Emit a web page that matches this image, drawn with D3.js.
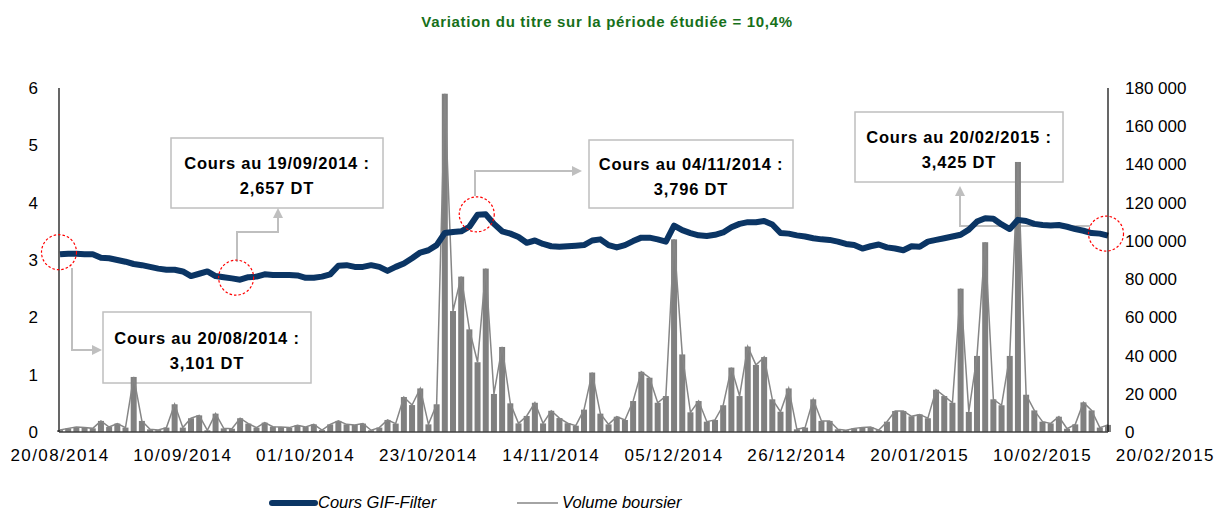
<!DOCTYPE html>
<html><head><meta charset="utf-8">
<script src="https://cdn.jsdelivr.net/npm/d3@7"></script>
<style>
body{margin:0;background:#fff}
svg{display:block}
text{font-family:"Liberation Sans",Arial,sans-serif}
</style>
</head><body>
<svg id="chart" width="1215" height="513"></svg>
<script>
// ---- categories: trading days (dd per month)
const tradingMonths = [
  ["08/2014",[20,21,22,25,26,27,28,29]],
  ["09/2014",[1,2,3,4,5,8,9,10,11,12,15,16,17,18,19,22,23,24,25,26,29,30]],
  ["10/2014",[1,2,3,6,7,8,9,10,13,14,16,17,20,21,22,23,27,28,29,30,31]],
  ["11/2014",[3,4,5,6,7,10,11,12,13,14,17,18,19,20,21,24,25,26,27,28]],
  ["12/2014",[1,2,3,4,5,8,9,10,11,12,15,16,17,18,19,22,23,24,25,26,29,30,31]],
  ["01/2015",[2,5,6,7,8,9,12,13,15,16,19,20,21,22,23,26,27,28,29,30]],
  ["02/2015",[2,3,4,5,6,9,10,11,12,13,16,17,18,19,20]]
];
const dates = tradingMonths.flatMap(([m,days]) => days.map(d => String(d).padStart(2,"0")+"/"+m));

// ---- series: share price (DT)
const cours = [
 3.101,3.11,3.11,3.10,3.10,3.04,3.03,3.00,2.97,2.93,
 2.91,2.88,2.85,2.83,2.83,2.80,2.72,2.76,2.80,2.72,
 2.70,2.68,2.657,2.70,2.71,2.75,2.74,2.74,2.74,2.73,
 2.69,2.69,2.71,2.75,2.90,2.91,2.88,2.88,2.91,2.88,
 2.81,2.88,2.94,3.03,3.13,3.17,3.26,3.47,3.49,3.50,
 3.58,3.79,3.796,3.63,3.50,3.46,3.40,3.30,3.34,3.28,
 3.24,3.23,3.24,3.25,3.26,3.34,3.36,3.26,3.22,3.26,
 3.33,3.39,3.39,3.36,3.32,3.60,3.52,3.47,3.43,3.42,
 3.44,3.48,3.57,3.63,3.66,3.66,3.68,3.62,3.47,3.46,
 3.43,3.41,3.38,3.36,3.35,3.32,3.28,3.26,3.20,3.24,
 3.27,3.22,3.20,3.17,3.24,3.23,3.32,3.35,3.38,3.41,
 3.44,3.53,3.67,3.73,3.72,3.62,3.54,3.70,3.68,3.63,
 3.61,3.60,3.61,3.58,3.54,3.51,3.47,3.46,3.425
];
// ---- series: traded volume
const volume = [
 1000,1900,2600,2300,1900,5800,2600,4400,2300,28800,
 5800,1400,1000,2300,14500,2300,7200,8700,900,9600,
 1900,1700,7200,4400,2300,4900,2800,2600,2300,3500,
 2600,4000,1000,4000,5800,4000,3700,4400,900,2300,
 6300,4400,18300,14100,22800,4000,14500,177000,63300,81300,
 53700,36500,85500,19900,44500,15000,4500,8400,15300,4500,
 11100,7300,4600,3300,11700,31100,9600,4000,8000,6300,
 16200,31500,28400,15300,18800,100800,40600,10300,16200,5400,
 6300,14000,33700,18800,44700,35100,39200,17100,10600,22800,
 1400,2300,17100,5800,5800,1400,900,1900,2300,2600,
 1000,5400,11000,11000,8200,9200,7200,22100,18800,15300,
 75000,10500,39800,99300,17100,14000,39800,141300,19500,11300,
 5400,4500,8000,1700,4000,15500,11300,2300,3700
];
// ---- axis labels
const xTickLabels = ["20/08/2014","10/09/2014","01/10/2014","23/10/2014","14/11/2014","05/12/2014","26/12/2014","20/01/2015","10/02/2015","20/02/2015"];
const xTickStep = 15;
const leftTicks = [0,1,2,3,4,5,6];
const rightTicks = [0,20000,40000,60000,80000,100000,120000,140000,160000,180000];
const titleText = "Variation du titre sur la période étudiée = 10,4%";
const legendLabels = ["Cours GIF-Filter","Volume boursier"];
// ---- annotations: [date, value text]
const annotations = [
  {date:"20/08/2014", label:"3,101 DT"},
  {date:"19/09/2014", label:"2,657 DT"},
  {date:"04/11/2014", label:"3,796 DT"},
  {date:"20/02/2015", label:"3,425 DT"}
];

const svg = d3.select("#chart");
const L = 59, R = 1108, T = 88, B = 432;
const x = d3.scaleLinear().domain([0, dates.length-1]).range([60, R]);
const yL = d3.scaleLinear().domain([0,6]).range([B,T]);
const yR = d3.scaleLinear().domain([0,180000]).range([B,T]);
const fmt = d3.formatLocale({decimal:",", thousands:" ", grouping:[3], currency:["",""]}).format(",d");

// title
svg.append("text").attr("x",607).attr("y",27).attr("text-anchor","middle")
  .attr("fill","#17701a").attr("font-weight","bold").attr("font-size",15)
  .attr("letter-spacing",0.7).text(titleText);

// annotation boxes (drawn below data)
const gray = "#bfbfbf";
const boxes = [
  {x:103,y:312,w:208,h:71, conn:"M72,268V350H92", arrow:"right", ax:92, ay:350},
  {x:171,y:138,w:212,h:70, conn:"M237,262V232H278V218", arrow:"up", ax:278, ay:218},
  {x:589,y:140,w:204,h:68, conn:"M475,196V171H572", arrow:"right", ax:572, ay:171},
  {x:855,y:112,w:208,h:70, conn:"M1090,226H960V196", arrow:"up", ax:960, ay:196}
];
const annG = svg.append("g");
boxes.forEach((b,i) => {
  annG.append("rect").attr("x",b.x).attr("y",b.y).attr("width",b.w).attr("height",b.h)
    .attr("fill","#fff").attr("stroke",gray).attr("stroke-width",1.5);
  annG.append("path").attr("d",b.conn).attr("fill","none").attr("stroke",gray).attr("stroke-width",2);
  const a = b.arrow==="right"
    ? `M${b.ax},${b.ay-5}L${b.ax+10},${b.ay}L${b.ax},${b.ay+5}Z`
    : `M${b.ax-5},${b.ay}L${b.ax},${b.ay-10}L${b.ax+5},${b.ay}Z`;
  annG.append("path").attr("d",a).attr("fill",gray);
  const cx = b.x + b.w/2;
  annG.append("text").attr("x",cx).attr("y",b.y+b.h*0.36+6).attr("text-anchor","middle")
    .attr("font-weight","bold").attr("font-size",16.5).attr("letter-spacing",0.8)
    .text(`Cours au ${annotations[i].date} :`);
  annG.append("text").attr("x",cx).attr("y",b.y+b.h*0.72+6).attr("text-anchor","middle")
    .attr("font-weight","bold").attr("font-size",16.5).attr("letter-spacing",0.8)
    .text(annotations[i].label);
});

// volume bars
const barW = 6;
svg.append("g").selectAll("rect").data(volume).join("rect")
  .attr("x",(d,i)=>x(i)-barW/2).attr("width",barW)
  .attr("y",d=>yR(d)).attr("height",d=>B-yR(d)).attr("fill","#808080");
// volume line
svg.append("path").datum(volume)
  .attr("d",d3.line().x((d,i)=>x(i)).y(d=>yR(d)))
  .attr("fill","none").attr("stroke","#868686").attr("stroke-width",1.5);
// price line
svg.append("path").datum(cours)
  .attr("d",d3.line().x((d,i)=>x(i)).y(d=>yL(d)))
  .attr("fill","none").attr("stroke","#0b3564").attr("stroke-width",6)
  .attr("stroke-linejoin","round");

// axes
const fs = 17;
const axL = svg.append("g").attr("transform",`translate(${L},0)`)
  .call(d3.axisLeft(yL).tickValues(leftTicks).tickSize(0).tickPadding(21).tickFormat(d3.format("d")));
const axR = svg.append("g").attr("transform",`translate(${R},0)`)
  .call(d3.axisRight(yR).tickValues(rightTicks).tickSize(0).tickPadding(17).tickFormat(fmt));
[axL,axR].forEach(a=>{
  a.select(".domain").remove();
  a.selectAll("text").attr("font-size",fs).attr("fill","#000").attr("font-family","Liberation Sans, Arial, sans-serif");
});
svg.append("line").attr("x1",L).attr("x2",L).attr("y1",T).attr("y2",B).attr("stroke","#000").attr("stroke-width",1.2);
svg.append("line").attr("x1",R).attr("x2",R).attr("y1",T).attr("y2",B).attr("stroke","#000").attr("stroke-width",1.2);
svg.append("line").attr("x1",L).attr("x2",R).attr("y1",B).attr("y2",B).attr("stroke","#404040").attr("stroke-width",1.5);

svg.append("g").selectAll("text").data(xTickLabels).join("text")
  .attr("x",(d,i)=>x(i*xTickStep)).attr("y",461).attr("text-anchor","middle")
  .attr("font-size",fs).attr("letter-spacing",1.4).attr("fill","#000").text(d=>d);

// red dashed circles (on top)
const i19 = dates.indexOf("19/09/2014"), i04 = dates.indexOf("04/11/2014");
const circ = [
  {cx:x(0)-1, cy:yL(cours[0])-2},
  {cx:x(i19)-4, cy:yL(cours[i19])-2},
  {cx:x(i04)-9, cy:yL(cours[i04])},
  {cx:x(dates.length-1)-2, cy:yL(cours[dates.length-1])-2}
];
svg.append("g").selectAll("circle").data(circ).join("circle")
  .attr("cx",d=>d.cx).attr("cy",d=>d.cy).attr("r",17.5)
  .attr("fill","none").attr("stroke","#ff0000").attr("stroke-width",1.2).attr("stroke-dasharray","2.5,2");

// legend
const lg = svg.append("g");
lg.append("line").attr("x1",272).attr("x2",315).attr("y1",503).attr("y2",503)
  .attr("stroke","#0b3564").attr("stroke-width",6).attr("stroke-linecap","round");
lg.append("text").attr("x",318).attr("y",508).attr("font-size",16.5).attr("font-style","italic").text(legendLabels[0]);
lg.append("line").attr("x1",517).attr("x2",558).attr("y1",503).attr("y2",503)
  .attr("stroke","#868686").attr("stroke-width",1.5);
lg.append("text").attr("x",562).attr("y",508).attr("font-size",16.5).attr("font-style","italic").text(legendLabels[1]);
</script>
</body></html>
